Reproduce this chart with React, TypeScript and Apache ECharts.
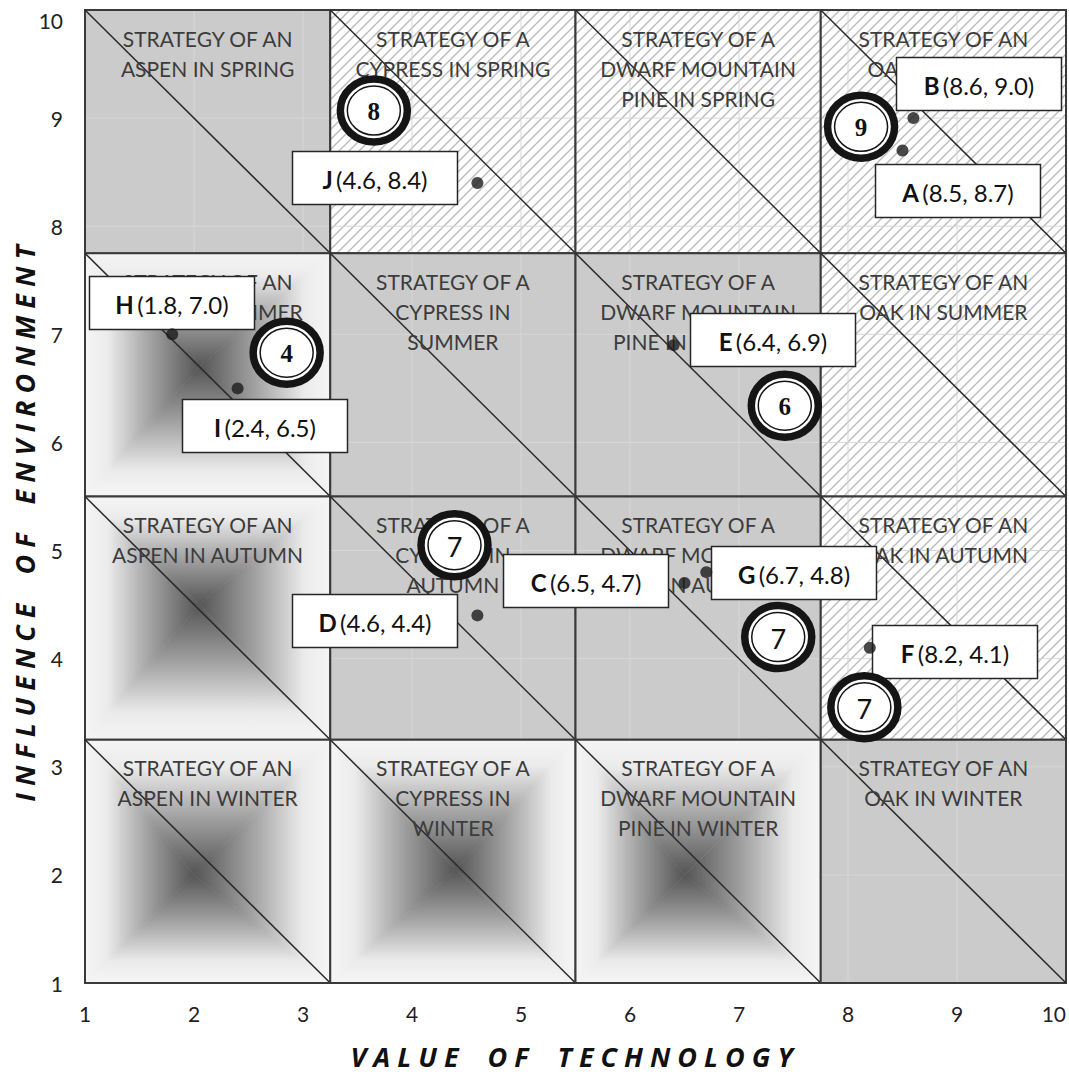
import React, { useEffect, useRef } from "react";
import * as echarts from "echarts";

// ---------- data ----------
const axisMin = 1;
const axisMax = 10;
const cellEdges = [1, 3.25, 5.5, 7.75, 10];

const cellTexts = [
  ["STRATEGY OF AN\nASPEN IN SPRING", "STRATEGY OF A\nCYPRESS IN SPRING", "STRATEGY OF A\nDWARF MOUNTAIN\nPINE IN SPRING", "STRATEGY OF AN\nOAK IN SPRING"],
  ["STRATEGY OF AN\nASPEN IN SUMMER", "STRATEGY OF A\nCYPRESS IN\nSUMMER", "STRATEGY OF A\nDWARF MOUNTAIN\nPINE IN SUMMER", "STRATEGY OF AN\nOAK IN SUMMER"],
  ["STRATEGY OF AN\nASPEN IN AUTUMN", "STRATEGY OF A\nCYPRESS IN\nAUTUMN", "STRATEGY OF A\nDWARF MOUNTAIN\nPINE IN AUTUMN", "STRATEGY OF AN\nOAK IN AUTUMN"],
  ["STRATEGY OF AN\nASPEN IN WINTER", "STRATEGY OF A\nCYPRESS IN\nWINTER", "STRATEGY OF A\nDWARF MOUNTAIN\nPINE IN WINTER", "STRATEGY OF AN\nOAK IN WINTER"],
];

const cellFills = [
  ["solid", "hatch", "hatch", "hatch"],
  ["pyramid", "solid", "solid", "hatch"],
  ["pyramid", "solid", "solid", "hatch"],
  ["pyramid", "pyramid", "pyramid", "solid"],
];

const pyramidCells = ["1-0", "2-0", "3-0", "3-1", "3-2"];
const pyramidApexX = [2.05, 2.05, 2.0, 4.4, 6.5];
const pyramidApexY = [6.7, 4.5, 2.0, 2.05, 2.0];

const pointNames = ["A", "B", "C", "D", "E", "F", "G", "H", "I", "J"];
const pointX = [8.5, 8.6, 6.5, 4.6, 6.4, 8.2, 6.7, 1.8, 2.4, 4.6];
const pointY = [8.7, 9.0, 4.7, 4.4, 6.9, 4.1, 4.8, 7.0, 6.5, 8.4];

const badgeNumbers = ["8", "9", "4", "6", "7", "7", "7"];
const badgeX = [3.65, 8.12, 2.85, 7.42, 4.39, 7.36, 8.15];
const badgeY = [9.07, 8.92, 6.83, 6.34, 5.05, 4.2, 3.55];

const xAxisTitle = "VALUE OF TECHNOLOGY";
const yAxisTitle = "INFLUENCE OF ENVIRONMENT";

// ---------- style config (placement of label boxes, fonts) ----------
const labelOffsets: number[][] = [
  [55, 40], [66, -34], [-99, -2], [-102, 6], [99, -5],
  [85, 4], [88, 1], [0, -31], [27, 38], [-102, -5],
];
const badgeSerif = [true, true, true, true, false, false, false];

const GRAY = "#cbcbcb";
const PYR_STOPS = [
  { offset: 0, color: "#555555" },
  { offset: 0.45, color: "#a6a6a6" },
  { offset: 0.8, color: "#ebebeb" },
  { offset: 1, color: "#f5f5f5" },
];

function hatchLines(L: number, T: number, R: number, B: number, s: number) {
  const out: any[] = [];
  const cStart = Math.ceil((L + T) / s) * s;
  for (let c = cStart; c <= R + B; c += s) {
    const xa = Math.max(L, c - B);
    const xb = Math.min(R, c - T);
    if (xb - xa > 0.5) {
      out.push({
        type: "line",
        silent: true,
        shape: { x1: xa, y1: c - xa, x2: xb, y2: c - xb },
        style: { stroke: "#bcbcbc", lineWidth: 1.4 },
      });
    }
  }
  return out;
}

function pyramid(L: number, T: number, R: number, B: number, ax: number, ay: number) {
  const grad = (x: number, y: number, x2: number, y2: number) => ({
    type: "linear", x, y, x2, y2, global: true, colorStops: PYR_STOPS,
  });
  const faces = [
    { pts: [[L, T], [R, T], [ax, ay]], g: grad(ax, ay, ax, T) },
    { pts: [[R, T], [R, B], [ax, ay]], g: grad(ax, ay, R, ay) },
    { pts: [[R, B], [L, B], [ax, ay]], g: grad(ax, ay, ax, B) },
    { pts: [[L, B], [L, T], [ax, ay]], g: grad(ax, ay, L, ay) },
  ];
  return faces.map((f) => ({
    type: "polygon",
    silent: true,
    shape: { points: f.pts },
    style: { fill: f.g, stroke: f.g, lineWidth: 0.6 },
  }));
}

export default function App() {
  const ref = useRef<HTMLDivElement>(null);

  useEffect(() => {
    if (!ref.current) return;
    const chart = echarts.init(ref.current, null, { renderer: "svg" });

    const cellData: number[][] = [];
    for (let r = 0; r < 4; r++) {
      for (let c = 0; c < 4; c++) {
        cellData.push([cellEdges[c], cellEdges[c + 1], cellEdges[3 - r], cellEdges[4 - r], r, c]);
      }
    }

    const renderCell = (params: any, api: any) => {
      const x0 = api.value(0), x1 = api.value(1), yB = api.value(2), yT = api.value(3);
      const r = api.value(4), c = api.value(5);
      const p0 = api.coord([x0, yT]);
      const p1 = api.coord([x1, yB]);
      const L = p0[0], T = p0[1], R = p1[0], B = p1[1];
      const fill = cellFills[r][c];
      const children: any[] = [];
      if (fill === "solid") {
        children.push({ type: "rect", silent: true, shape: { x: L, y: T, width: R - L, height: B - T }, style: { fill: GRAY } });
      } else if (fill === "hatch") {
        children.push({ type: "rect", silent: true, shape: { x: L, y: T, width: R - L, height: B - T }, style: { fill: "#ffffff" } });
        children.push(...hatchLines(L, T, R, B, 10));
      } else {
        const k = pyramidCells.indexOf(r + "-" + c);
        const a = api.coord([pyramidApexX[k], pyramidApexY[k]]);
        children.push({ type: "rect", silent: true, shape: { x: L, y: T, width: R - L, height: B - T }, style: { fill: "#f5f5f5" } });
        children.push(...pyramid(L, T, R, B, a[0], a[1]));
      }
      if (fill !== "pyramid") {
        for (let v = Math.ceil(x0); v < x1; v++) {
          if (v <= x0) continue;
          const px = api.coord([v, yT])[0];
          children.push({ type: "line", silent: true, shape: { x1: px, y1: T, x2: px, y2: B }, style: { stroke: "#d7d7d7", lineWidth: 1 } });
        }
        for (let v = Math.ceil(yB); v < yT; v++) {
          if (v <= yB) continue;
          const py = api.coord([x0, v])[1];
          children.push({ type: "line", silent: true, shape: { x1: L, y1: py, x2: R, y2: py }, style: { stroke: "#d7d7d7", lineWidth: 1 } });
        }
      }
      children.push({ type: "rect", silent: true, shape: { x: L, y: T, width: R - L, height: B - T }, style: { fill: "none", stroke: "#3a3a3a", lineWidth: 2 } });
      children.push({ type: "line", silent: true, shape: { x1: L, y1: T, x2: R, y2: B }, style: { stroke: "#2a2a2a", lineWidth: 1.5 } });
      children.push({
        type: "text",
        silent: true,
        style: {
          text: cellTexts[r][c],
          x: (L + R) / 2,
          y: T + 13,
          align: "center",
          verticalAlign: "top",
          fontSize: 21,
          fontFamily: "Lato",
          fill: "#3c3c3c",
          lineHeight: 30,
        },
      });
      return { type: "group", children };
    };

    const renderBox = (params: any, api: any) => {
      const i = api.value(2);
      const p = api.coord([api.value(0), api.value(1)]);
      const off = labelOffsets[i];
      const cx = Math.round(p[0] + off[0]);
      const cy = Math.round(p[1] + off[1]);
      const w = 165, h = 53;
      return {
        type: "group",
        children: [
          {
            type: "rect",
            shape: { x: cx - w / 2, y: cy - h / 2, width: w, height: h },
            style: { fill: "#ffffff", stroke: "#262626", lineWidth: 1.5 },
          },
          {
            type: "text",
            style: {
              text: `{b|${pointNames[i]}} {n|(${pointX[i].toFixed(1)}, ${pointY[i].toFixed(1)})}`,
              x: cx,
              y: cy + 1,
              align: "center",
              verticalAlign: "middle",
              rich: {
                b: { fontWeight: "bold", fontSize: 24, fontFamily: "Lato", fill: "#111" },
                n: { fontSize: 24, fontFamily: "Lato", fill: "#111" },
              },
            },
          },
        ],
      };
    };

    const renderBadge = (params: any, api: any) => {
      const i = api.value(2);
      const p = api.coord([api.value(0), api.value(1)]);
      const serif = badgeSerif[i];
      return {
        type: "group",
        children: [
          { type: "ellipse", shape: { cx: p[0], cy: p[1], rx: 33.5, ry: 31.5 }, style: { fill: "#ffffff", stroke: "#151515", lineWidth: 7.5 } },
          { type: "ellipse", shape: { cx: p[0], cy: p[1], rx: 26.5, ry: 24.5 }, style: { fill: "none", stroke: "#151515", lineWidth: 1.5 } },
          {
            type: "text",
            style: {
              text: badgeNumbers[i],
              x: p[0],
              y: p[1] + 1,
              align: "center",
              verticalAlign: "middle",
              fontSize: serif ? 25 : 27,
              fontWeight: serif ? "bold" : "normal",
              fontFamily: serif ? "Liberation Serif" : "Lato",
              fill: "#111",
            },
          },
        ],
      };
    };

    const option: any = {
      animation: false,
      grid: { left: 85, right: 3, top: 10, bottom: 91, containLabel: false },
      xAxis: {
        type: "value", min: axisMin, max: axisMax, interval: 1,
        axisLine: { show: false }, axisTick: { show: false }, splitLine: { show: false },
        axisLabel: { fontSize: 21, color: "#222", margin: 20, fontFamily: "Lato", alignMaxLabel: "right" },
      },
      yAxis: {
        type: "value", min: axisMin, max: axisMax, interval: 1,
        axisLine: { show: false }, axisTick: { show: false }, splitLine: { show: false },
        axisLabel: { fontSize: 21, color: "#222", margin: 22, fontFamily: "Lato", verticalAlignMaxLabel: "top" },
      },
      series: [
        {
          type: "custom",
          z: 1,
          silent: true,
          renderItem: renderCell,
          dimensions: ["x0", "x1", "y0", "y1", "r", "c"],
          encode: { x: [0, 1], y: [2, 3] },
          data: cellData,
        },
        {
          type: "custom",
          z: 2,
          silent: true,
          renderItem: renderBox,
          encode: { x: 0, y: 1 },
          data: pointX.map((x, i) => [x, pointY[i], i]),
        },
        {
          type: "scatter",
          z: 3,
          symbolSize: 12,
          itemStyle: { color: "#1c1c1c" },
          emphasis: { disabled: true },
          data: pointNames.map((n, i) => ({ name: n, value: [pointX[i], pointY[i]] })),
        },
        {
          type: "custom",
          z: 5,
          silent: true,
          renderItem: renderBadge,
          encode: { x: 0, y: 1 },
          data: badgeX.map((x, i) => [x, badgeY[i], i]),
        },
      ],
      graphic: [
        {
          type: "text",
          x: 575,
          y: 1056,
          silent: true,
          style: {
            text: xAxisTitle,
            align: "center",
            verticalAlign: "middle",
            fontSize: 27,
            fontStyle: "italic",
            fontWeight: "bold",
            fontFamily: "Open Sans",
            fill: "#111",
          },
        },
        {
          type: "text",
          x: 24,
          y: 520,
          rotation: Math.PI / 2,
          silent: true,
          style: {
            text: yAxisTitle,
            align: "center",
            verticalAlign: "middle",
            fontSize: 27,
            fontStyle: "italic",
            fontWeight: "bold",
            fontFamily: "Open Sans",
            fill: "#111",
          },
        },
      ],
    };

    chart.setOption(option);
    return () => chart.dispose();
  }, []);

  return (
    <>
      <style>{`svg text[style*="Open Sans"], svg text[font-family*="Open Sans"] { letter-spacing: 7px; word-spacing: 8px; }`}</style>
      <div ref={ref} style={{ position: "fixed", left: 0, top: 0, width: 1069, height: 1074, background: "#fff" }} />
    </>
  );
}
